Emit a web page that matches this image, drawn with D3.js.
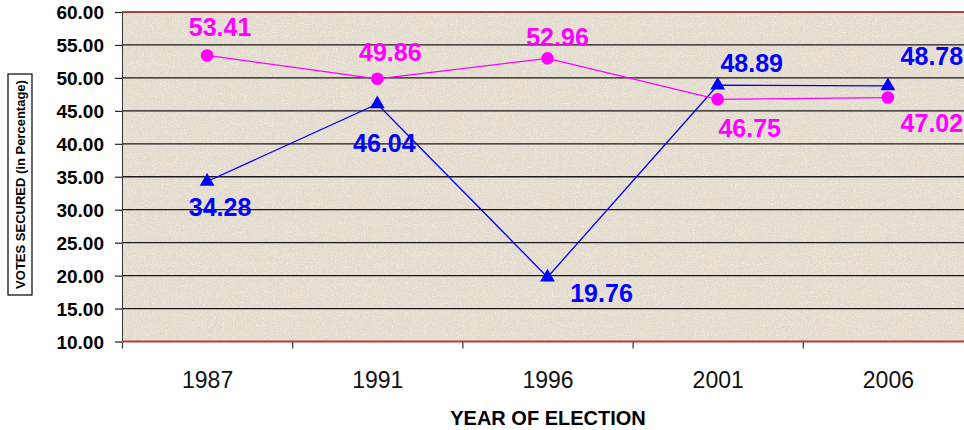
<!DOCTYPE html>
<html>
<head>
<meta charset="utf-8">
<script src="https://cdn.jsdelivr.net/npm/d3@7"></script>
<style>
  body { margin: 0; background: #fff; }
  svg { display: block; font-family: Arial, "Liberation Sans", sans-serif; }
</style>
</head>
<body>
<div id="chartDiv"></div>
<script>

// data
var years = ["1987", "1991", "1996", "2001", "2006"];
var pinkValues = [53.41, 49.86, 52.96, 46.75, 47.02];
var blueValues = [34.28, 46.04, 19.76, 48.89, 48.78];
var yTicks = [10, 15, 20, 25, 30, 35, 40, 45, 50, 55, 60];

// where each value label sits relative to its point (dx, dy of baseline)
var pinkLabelPos = [[13, -19], [13, -18], [10, -12], [32, 38], [44, 34]];
var blueLabelPos = [[13, 35], [7, 48], [54, 25], [34, -13], [44, -21]];

var width = 964, height = 430;
var plot = {left: 122, right: 973, top: 12, bottom: 341.5};

var svg = d3.select("#chartDiv").append("svg")
    .attr("width", width)
    .attr("height", height);

// textured beige background: dark grain plus light flecks
var defs = svg.append("defs");
var f = defs.append("filter").attr("id", "grain")
    .attr("x", 0).attr("y", 0).attr("width", 1).attr("height", 1);
f.append("feTurbulence").attr("type", "fractalNoise")
    .attr("baseFrequency", 0.7).attr("numOctaves", 3).attr("seed", 7);
f.append("feColorMatrix").attr("type", "matrix")
    .attr("values", "0 0 0 0 0.62  0 0 0 0 0.55  0 0 0 0 0.46  2.6 0 0 0 -1.45");
f.append("feComposite").attr("in2", "SourceGraphic").attr("operator", "in");

var f2 = defs.append("filter").attr("id", "flecks")
    .attr("x", 0).attr("y", 0).attr("width", 1).attr("height", 1);
f2.append("feTurbulence").attr("type", "fractalNoise")
    .attr("baseFrequency", 0.9).attr("numOctaves", 2).attr("seed", 3);
f2.append("feColorMatrix").attr("type", "matrix")
    .attr("values", "0 0 0 0 0.96  0 0 0 0 0.94  0 0 0 0 0.90  0 2.4 0 0 -1.15");
f2.append("feComposite").attr("in2", "SourceGraphic").attr("operator", "in");

var x_scale = d3.scalePoint()
    .domain(years)
    .range([plot.left, plot.right])
    .padding(0.5);

var y_scale = d3.scaleLinear()
    .domain([10, 60])
    .range([plot.bottom, plot.top]);

var bg = svg.append("g");
bg.append("rect")
    .attr("x", plot.left).attr("y", plot.top)
    .attr("width", plot.right - plot.left).attr("height", plot.bottom - plot.top)
    .attr("fill", "#e4dccf");
bg.append("rect")
    .attr("x", plot.left).attr("y", plot.top)
    .attr("width", plot.right - plot.left).attr("height", plot.bottom - plot.top)
    .attr("fill", "#e4dccf")
    .attr("filter", "url(#grain)")
    .attr("opacity", 0.35);
bg.append("rect")
    .attr("x", plot.left).attr("y", plot.top)
    .attr("width", plot.right - plot.left).attr("height", plot.bottom - plot.top)
    .attr("fill", "#e4dccf")
    .attr("filter", "url(#flecks)")
    .attr("opacity", 0.7);

// gridlines
svg.append("g").selectAll("line")
    .data(yTicks.filter(function(d){ return d > 10 && d < 60; }))
    .enter().append("line")
    .attr("x1", plot.left).attr("x2", plot.right)
    .attr("y1", function(d){ return y_scale(d); })
    .attr("y2", function(d){ return y_scale(d); })
    .attr("stroke", "#1a1a1a").attr("stroke-width", 1.3);

svg.append("line")
    .attr("x1", plot.left).attr("x2", plot.right)
    .attr("y1", y_scale(60)).attr("y2", y_scale(60))
    .attr("stroke", "#8b0f0f").attr("stroke-width", 1.6);

// y axis
var yAxis = d3.axisLeft(y_scale)
    .tickValues(yTicks)
    .tickFormat(d3.format(".2f"))
    .tickSize(7)
    .tickSizeOuter(0);

var yGroup = svg.append("g")
    .attr("transform", "translate(" + plot.left + ",0)")
    .call(yAxis);
yGroup.select(".domain").attr("stroke", "#333").attr("stroke-width", 1);
yGroup.selectAll(".tick line").attr("stroke", "#222").attr("stroke-width", 1.2);
yGroup.selectAll(".tick text")
    .attr("x", -18)
    .attr("dy", "0.36em")
    .attr("fill", "#000")
    .style("font-size", "19px")
    .style("font-weight", "bold");

// x axis, ticks on the band boundaries
var step = x_scale.step();
var xAxis = d3.axisBottom(x_scale).tickSize(0).tickSizeOuter(0);
var xGroup = svg.append("g")
    .attr("transform", "translate(0," + plot.bottom + ")")
    .call(xAxis);
xGroup.select(".domain").remove();
xGroup.selectAll(".tick text")
    .attr("y", 46)
    .attr("dy", 0)
    .attr("fill", "#111")
    .style("font-size", "23px");
xGroup.selectAll(".tick").append("line")
    .attr("x1", -step / 2).attr("x2", -step / 2)
    .attr("y1", 0).attr("y2", 7)
    .attr("stroke", "#333").attr("stroke-width", 1.2);

svg.append("line")
    .attr("x1", plot.left).attr("x2", plot.right)
    .attr("y1", plot.bottom).attr("y2", plot.bottom)
    .attr("stroke", "#b83a3a").attr("stroke-width", 2);

// series
var line = d3.line()
    .x(function(d, i){ return x_scale(years[i]); })
    .y(function(d){ return y_scale(d); });

svg.append("path").datum(blueValues)
    .attr("d", line)
    .attr("fill", "none").attr("stroke", "#0000ff").attr("stroke-width", 1.3);

svg.append("path").datum(pinkValues)
    .attr("d", line)
    .attr("fill", "none").attr("stroke", "#ff00ff").attr("stroke-width", 1.3);

svg.append("g").selectAll("path")
    .data(blueValues).enter().append("path")
    .attr("d", d3.symbol().type(d3.symbolTriangle).size(95))
    .attr("transform", function(d, i){ return "translate(" + x_scale(years[i]) + "," + y_scale(d) + ")"; })
    .attr("fill", "#0000ff");

svg.append("g").selectAll("circle")
    .data(pinkValues).enter().append("circle")
    .attr("cx", function(d, i){ return x_scale(years[i]); })
    .attr("cy", function(d){ return y_scale(d); })
    .attr("r", 6.3)
    .attr("fill", "#ff00ff");

// value labels
function addLabels(values, pos, color){
  svg.append("g").selectAll("text")
      .data(values).enter().append("text")
      .attr("x", function(d, i){ return x_scale(years[i]) + pos[i][0]; })
      .attr("y", function(d, i){ return y_scale(d) + pos[i][1]; })
      .attr("text-anchor", "middle")
      .attr("fill", color)
      .style("font-size", "25px")
      .style("font-weight", "bold")
      .text(function(d){ return d.toFixed(2); });
}
addLabels(pinkValues, pinkLabelPos, "#ff00ff");
addLabels(blueValues, blueLabelPos, "#0000ff");

// axis titles
svg.append("rect")
    .attr("x", 8).attr("y", 74).attr("width", 24).attr("height", 221)
    .attr("fill", "#fff").attr("stroke", "#000").attr("stroke-width", 1.2);
svg.append("text")
    .attr("transform", "translate(24.5,184.5) rotate(-90)")
    .attr("text-anchor", "middle")
    .style("font-size", "13px")
    .style("font-weight", "bold")
    .text("VOTES SECURED (in Percentage)");

svg.append("text")
    .attr("x", 548).attr("y", 425)
    .attr("text-anchor", "middle")
    .style("font-size", "20px")
    .style("font-weight", "bold")
    .text("YEAR OF ELECTION");

</script>
</body>
</html>
